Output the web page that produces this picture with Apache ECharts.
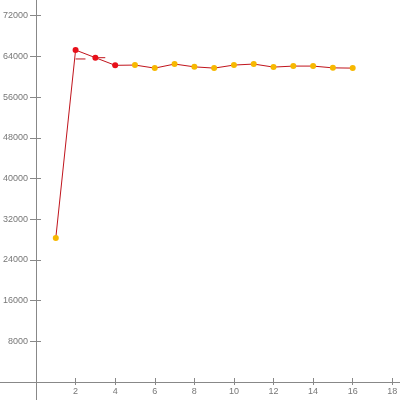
<!DOCTYPE html>
<html><head><meta charset="utf-8">
<script src="https://cdn.jsdelivr.net/npm/echarts@6/dist/echarts.min.js"></script>
<style>html,body{margin:0;padding:0;background:#fff}#c{width:400px;height:400px}</style>
</head><body><div id="c"></div>
<script>
var xValues = [1, 2, 3, 4, 5, 6, 7, 8, 9, 10, 11, 12, 13, 14, 15, 16];
var yValues = [28300, 65250, 63750, 62250, 62300, 61700, 62500, 61950, 61700, 62300, 62500, 61900, 62100, 62100, 61750, 61700];
var highlighted = [false, true, true, true, false, false, false, false, false, false, false, false, false, false, false, false];
var stubStartX = [2, 3];
var stubEndX = [2.5, 3.5];
var stubY = [63500, 63750];
var xTickValues = [2, 4, 6, 8, 10, 12, 14, 16, 18];
var yTickValues = [8000, 16000, 24000, 32000, 40000, 48000, 56000, 64000, 72000];

var axisColor = '#888';
var labelStyle = {color: '#777', fontFamily: 'Liberation Sans', fontSize: 9, formatter: function (v) { return String(v); }};
var xMax = 18.39, yMax = 75090;
var xExtMin = -1.819, yExtMin = -3538;

var xAxes = [
  {
    gridIndex: 0, type: 'value', min: 0, max: xMax, interval: 2, position: 'bottom',
    splitLine: {show: false},
    axisLine: {show: true, onZero: false, lineStyle: {color: axisColor, width: 1}},
    axisTick: {show: true, length: 3, customValues: xTickValues, lineStyle: {color: axisColor}},
    axisLabel: Object.assign({show: true, margin: 5, customValues: xTickValues}, labelStyle)
  },
  {
    gridIndex: 1, type: 'value', min: xExtMin, max: xMax, position: 'bottom',
    splitLine: {show: false},
    axisLine: {show: true, onZero: true, lineStyle: {color: axisColor, width: 1}},
    axisTick: {show: true, inside: true, length: 4, customValues: xTickValues, lineStyle: {color: axisColor}},
    axisLabel: {show: false}
  }
];
var yAxes = [
  {
    gridIndex: 0, type: 'value', min: 0, max: yMax, interval: 8000, position: 'left',
    splitLine: {show: false},
    axisLine: {show: true, onZero: false, lineStyle: {color: axisColor, width: 1}},
    axisTick: {show: true, length: 6, customValues: yTickValues, lineStyle: {color: axisColor}},
    axisLabel: Object.assign({show: true, margin: 8, customValues: yTickValues}, labelStyle)
  },
  {
    gridIndex: 1, type: 'value', min: yExtMin, max: yMax, position: 'left',
    splitLine: {show: false},
    axisLine: {show: true, onZero: true, lineStyle: {color: axisColor, width: 1}},
    axisTick: {show: true, inside: true, length: 5, customValues: yTickValues, lineStyle: {color: axisColor}},
    axisLabel: {show: false}
  }
];

var mainData = xValues.map(function (x, i) {
  return {
    value: [x, yValues[i]],
    itemStyle: {color: highlighted[i] ? '#e8101a' : '#f7b800'}
  };
});

var series = [{
  type: 'line', xAxisIndex: 0, yAxisIndex: 0,
  data: mainData, symbol: 'circle', symbolSize: 6,
  lineStyle: {color: '#c0141c', width: 1}, z: 3, animation: false
}];
stubStartX.forEach(function (sx, i) {
  series.push({
    type: 'line', xAxisIndex: 0, yAxisIndex: 0, symbol: 'none',
    data: [[sx, stubY[i]], [stubEndX[i], stubY[i]]],
    lineStyle: {color: '#c0141c', width: 1}, z: 2, animation: false
  });
});

var chart = echarts.init(document.getElementById('c'), null, {renderer: 'canvas'});
chart.setOption({
  animation: false,
  backgroundColor: '#fff',
  grid: [
    {left: 36, right: 0, top: 0, bottom: 18, containLabel: false, outerBoundsMode: 'none'},
    {left: 0, right: 0, top: 0, bottom: 0, containLabel: false, outerBoundsMode: 'none'}
  ],
  xAxis: xAxes,
  yAxis: yAxes,
  series: series
});
</script></body></html>
